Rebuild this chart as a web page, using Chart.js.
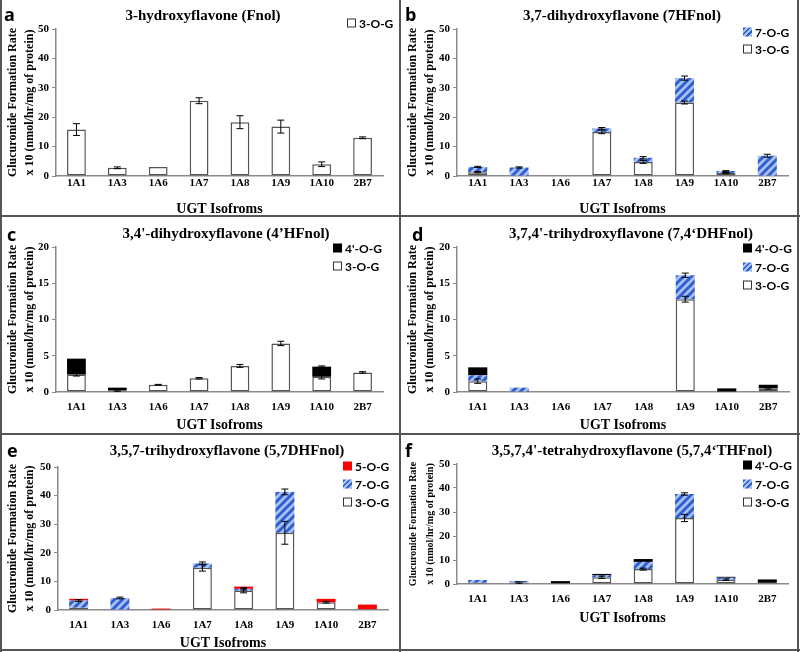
<!DOCTYPE html>
<html lang="en">
<head>
<meta charset="UTF-8">
<title>UGT isoform glucuronidation of flavonols</title>
<script src="https://cdn.jsdelivr.net/npm/chart.js"></script>
<style>
    body { margin: 0; background: #fff; }
    #fig { position: relative; width: 800px; height: 652px; overflow: hidden; }
    .panel { position: absolute; }
    .panel canvas { position: absolute; left: 0; top: 0; }
    .letter { position: absolute; font: bold 18px "Open Sans", sans-serif; transform: translateY(-50%); }
    .title { position: absolute; font: bold 15px "Liberation Serif", serif; white-space: nowrap; transform: translate(-50%, -50%); }
    .legend { position: absolute; font: bold 12px Lato, sans-serif; }
    .legend div { position: absolute; left: 0; white-space: nowrap; transform: translateY(-50%); display: flex; align-items: center; }
    .legend span.box { display: inline-block; width: 9px; height: 9px; margin-right: 3px; box-sizing: border-box; }
    .line { position: absolute; background: #555; }
</style>
</head>
<body>
<div id="fig"></div>

<script>
    // categories (shared by every panel)
    const isoforms = ['1A1', '1A3', '1A6', '1A7', '1A8', '1A9', '1A10', '2B7'];

    // a: 3-hydroxyflavone
    const fnol3 = [15.8, 2.8, 3.1, 25.6, 18.3, 16.8, 4.0, 13.0];
    const fnol3Err = [2.0, 0.3, 0, 1.0, 2.2, 2.2, 0.8, 0.3];

    // b: 3,7-dihydroxyflavone
    const hf7_3 = [1.3, 0, 0, 15.0, 4.8, 25.0, 1.0, 0];
    const hf7_3Err = [0.2, 0, 0, 0.6, 0.5, 0.5, 0.2, 0];
    const hf7_7 = [1.8, 2.9, 0, 1.2, 1.4, 8.3, 0.7, 6.9];
    const hf7_7Err = [0.2, 0.2, 0, 0.3, 0.4, 0.7, 0.1, 0.5];

    // c: 3,4'-dihydroxyflavone
    const hf4_3 = [2.4, 0.2, 1.0, 1.9, 3.6, 6.7, 2.1, 2.7];
    const hf4_3Err = [0.2, 0.1, 0.05, 0.1, 0.2, 0.3, 0.3, 0.1];
    const hf4_4 = [2.2, 0.4, 0, 0, 0, 0, 1.4, 0];
    const hf4_4Err = [0, 0, 0, 0, 0, 0, 0.1, 0];

    // d: 3,7,4'-trihydroxyflavone
    const dhf74_3 = [1.5, 0, 0, 0, 0, 12.8, 0, 0.5];
    const dhf74_3Err = [0.3, 0, 0, 0, 0, 0.4, 0, 0.1];
    const dhf74_7 = [0.8, 0.6, 0, 0, 0, 3.3, 0, 0];
    const dhf74_7Err = [0, 0, 0, 0, 0, 0.3, 0, 0];
    const dhf74_4 = [1.1, 0, 0, 0, 0, 0, 0.5, 0.5];

    // e: 3,5,7-trihydroxyflavone
    const dhf57_3 = [0.8, 0, 0, 14.8, 6.8, 27.0, 2.7, 0.3];
    const dhf57_3Err = [0, 0, 0, 1.2, 0.8, 4.0, 0.3, 0];
    const dhf57_7 = [2.5, 4.2, 0, 1.5, 0.6, 14.3, 0, 0];
    const dhf57_7Err = [0.3, 0.3, 0, 0.5, 0.4, 1.0, 0, 0];
    const dhf57_5 = [0.6, 0, 0.5, 0, 0.8, 0, 1.2, 1.6];

    // f: 3,5,7,4'-tetrahydroxyflavone
    const thf_3 = [0.5, 0.6, 0.3, 2.8, 6.2, 27.5, 1.8, 0.5];
    const thf_3Err = [0, 0.3, 0, 0.5, 0.4, 1.5, 0.3, 0];
    const thf_7 = [1.2, 0.7, 0, 0.8, 3.0, 10.0, 0.8, 0];
    const thf_7Err = [0, 0, 0, 0, 0, 0.5, 0, 0];
    const thf_4 = [0, 0, 0.9, 0.6, 1.2, 0, 0.4, 1.4];

    // striped blue fill used for 7-O-G
    function makeHatch() {
        const c = document.createElement('canvas');
        c.width = 8; c.height = 8;
        const x = c.getContext('2d');
        x.fillStyle = '#a8c0f2';
        x.fillRect(0, 0, 8, 8);
        x.strokeStyle = '#2f5fd0';
        x.lineWidth = 3;
        x.beginPath();
        x.moveTo(-2, 10); x.lineTo(10, -2);
        x.moveTo(-6, 6); x.lineTo(6, -6);
        x.moveTo(2, 14); x.lineTo(14, 2);
        x.stroke();
        return x.createPattern(c, 'repeat');
    }
    const hatch = makeHatch();
    const hatchCss = 'repeating-linear-gradient(135deg, #2f5fd0 0 2px, #a8c0f2 2px 4px)';

    const styles = {
        '3-O-G': { backgroundColor: '#ffffff', borderColor: '#555', borderWidth: 1.5, css: 'background:#fff;border:1px solid #333' },
        '7-O-G': { backgroundColor: hatch, borderColor: '#2f5fd0', borderWidth: 0, css: 'background:' + hatchCss },
        "4'-O-G": { backgroundColor: '#000000', borderColor: '#000', borderWidth: 0, css: 'background:#000' },
        '5-O-G': { backgroundColor: '#ff0000', borderColor: '#f00', borderWidth: 0, css: 'background:#f00' }
    };

    // error bars drawn at the top of each stacked segment
    const errorBars = {
        id: 'errorBars',
        afterDatasetsDraw(chart) {
            const ctx = chart.ctx;
            const y = chart.scales.y;
            chart.data.datasets.forEach((ds, i) => {
                if (!ds.errors) return;
                const meta = chart.getDatasetMeta(i);
                meta.data.forEach((bar, j) => {
                    const e = ds.errors[j];
                    if (!e || !ds.data[j]) return;
                    const h = Math.abs(y.getPixelForValue(0) - y.getPixelForValue(e));
                    ctx.save();
                    ctx.strokeStyle = '#000';
                    ctx.lineWidth = 1;
                    ctx.beginPath();
                    ctx.moveTo(bar.x, bar.y - h); ctx.lineTo(bar.x, bar.y + h);
                    ctx.moveTo(bar.x - 3.5, bar.y - h); ctx.lineTo(bar.x + 3.5, bar.y - h);
                    ctx.moveTo(bar.x - 3.5, bar.y + h); ctx.lineTo(bar.x + 3.5, bar.y + h);
                    ctx.stroke();
                    ctx.restore();
                });
            });
        }
    };

    const fig = document.getElementById('fig');

    // p.x/p.y/p.w/p.h: panel box; p.area: plot area inside the panel
    function panel(p) {
        const div = document.createElement('div');
        div.className = 'panel';
        div.style.cssText = `left:${p.x}px;top:${p.y}px;width:${p.w}px;height:${p.h}px`;
        const canvas = document.createElement('canvas');
        canvas.width = p.w; canvas.height = p.h;
        div.appendChild(canvas);

        const letter = document.createElement('div');
        letter.className = 'letter';
        letter.textContent = p.letter;
        letter.style.left = p.letterX + 'px';
        letter.style.top = p.letterY + 'px';
        div.appendChild(letter);

        const title = document.createElement('div');
        title.className = 'title';
        title.textContent = p.title;
        title.style.left = p.titleX + 'px';
        title.style.top = p.titleY + 'px';
        div.appendChild(title);

        const legend = document.createElement('div');
        legend.className = 'legend';
        legend.style.left = p.legX + 'px';
        legend.style.top = '0px';
        // legend lists the top segment first
        p.series.slice().reverse().forEach((s, k) => {
            const row = document.createElement('div');
            row.style.top = (p.legY + k * p.legStep) + 'px';
            row.innerHTML = `<span class="box" style="${styles[s.label].css}"></span>${s.label}`;
            legend.appendChild(row);
        });
        div.appendChild(legend);
        fig.appendChild(div);

        const a = p.area;
        const xTitleBottom = a.xTitle + 8;
        const ySize = p.yTitleSize || 12;
        new Chart(canvas, {
            type: 'bar',
            data: {
                labels: isoforms,
                datasets: p.series.map(s => ({
                    label: s.label,
                    data: s.data.map(v => v === 0 ? null : v),
                    errors: s.err,
                    backgroundColor: styles[s.label].backgroundColor,
                    borderColor: styles[s.label].borderColor,
                    borderWidth: styles[s.label].borderWidth,
                    borderSkipped: false,
                    categoryPercentage: 1,
                    barPercentage: 0.46
                }))
            },
            options: {
                responsive: false,
                animation: false,
                events: [],
                layout: { padding: { left: 0, top: a.top, right: p.w - a.right, bottom: p.h - xTitleBottom } },
                plugins: { legend: { display: false }, tooltip: { enabled: false } },
                scales: {
                    x: {
                        stacked: true,
                        grid: { display: false, drawTicks: false },
                        border: { color: '#8a8a8a', width: 1.5 },
                        ticks: { color: '#000', padding: a.labelPad, font: { family: 'Liberation Serif', weight: 'bold', size: 11 } },
                        title: {
                            display: true, text: 'UGT Isofroms', color: '#000',
                            font: { family: 'Liberation Serif', weight: 'bold', size: 14, lineHeight: 1 },
                            padding: { top: 0, bottom: 1 }
                        },
                        afterFit: sc => { sc.height = xTitleBottom - a.bottom; }
                    },
                    y: {
                        stacked: true,
                        min: 0, max: p.max,
                        grid: { display: true, drawOnChartArea: false, drawTicks: true, tickLength: 4, color: '#8a8a8a' },
                        border: { color: '#8a8a8a', width: 1.5 },
                        ticks: { stepSize: p.step, color: '#000', padding: 3, font: { family: 'Liberation Serif', weight: 'bold', size: 11 } },
                        title: {
                            display: true, color: '#000',
                            text: ['Glucuronide Formation Rate', 'x 10 (nmol/hr/mg of protein)'],
                            font: { family: 'Liberation Serif', weight: 'bold', size: ySize, lineHeight: 17 / ySize },
                            padding: { top: 13 - 8.5, bottom: 0 }
                        },
                        afterFit: sc => { sc.width = a.left; }
                    }
                }
            },
            plugins: [errorBars]
        });
    }

    panel({
        x: 0, y: 0, w: 400, h: 216, letter: 'a', letterX: 4, letterY: 14,
        title: '3-hydroxyflavone (Fnol)', titleX: 203, titleY: 15,
        legX: 347, legY: 23, legStep: 17, max: 50, step: 10,
        area: { left: 56, right: 383, top: 29, bottom: 176, labelPad: 1, xTitle: 209 },
        series: [{ label: '3-O-G', data: fnol3, err: fnol3Err }]
    });

    panel({
        x: 400, y: 0, w: 400, h: 216, letter: 'b', letterX: 5, letterY: 14,
        title: '3,7-dihydroxyflavone (7HFnol)', titleX: 222, titleY: 15,
        legX: 343, legY: 32, legStep: 17, max: 50, step: 10,
        area: { left: 57, right: 388, top: 29, bottom: 176, labelPad: 1, xTitle: 209 },
        series: [
            { label: '3-O-G', data: hf7_3, err: hf7_3Err },
            { label: '7-O-G', data: hf7_7, err: hf7_7Err }
        ]
    });

    panel({
        x: 0, y: 216, w: 400, h: 218, letter: 'c', letterX: 7, letterY: 18,
        title: "3,4'-dihydroxyflavone (4\u2019HFnol)", titleX: 226, titleY: 17,
        legX: 333, legY: 32, legStep: 18, max: 20, step: 5,
        area: { left: 56, right: 383, top: 31, bottom: 176, labelPad: 9, xTitle: 209 },
        series: [
            { label: '3-O-G', data: hf4_3, err: hf4_3Err },
            { label: "4'-O-G", data: hf4_4, err: hf4_4Err }
        ]
    });

    panel({
        x: 400, y: 216, w: 400, h: 218, letter: 'd', letterX: 12, letterY: 18,
        title: "3,7,4'-trihydroxyflavone (7,4\u2018DHFnol)", titleX: 231, titleY: 17,
        legX: 343, legY: 32, legStep: 18.5, max: 20, step: 5,
        area: { left: 57, right: 389, top: 31, bottom: 176, labelPad: 9, xTitle: 209 },
        series: [
            { label: '3-O-G', data: dhf74_3, err: dhf74_3Err },
            { label: '7-O-G', data: dhf74_7, err: dhf74_7Err },
            { label: "4'-O-G", data: dhf74_4 }
        ]
    });

    panel({
        x: 0, y: 434, w: 400, h: 218, letter: 'e', letterX: 7, letterY: 16,
        title: '3,5,7-trihydroxyflavone (5,7DHFnol)', titleX: 227, titleY: 16,
        legX: 343, legY: 32, legStep: 18, max: 50, step: 10,
        area: { left: 58, right: 388, top: 33, bottom: 176, labelPad: 9, xTitle: 209 },
        series: [
            { label: '3-O-G', data: dhf57_3, err: dhf57_3Err },
            { label: '7-O-G', data: dhf57_7, err: dhf57_7Err },
            { label: '5-O-G', data: dhf57_5 }
        ]
    });

    panel({
        x: 400, y: 434, w: 400, h: 218, letter: 'f', letterX: 5, letterY: 16,
        title: "3,5,7,4'-tetrahydroxyflavone (5,7,4\u2018THFnol)", titleX: 232, titleY: 16,
        legX: 343, legY: 31, legStep: 18.5, max: 50, step: 10, yTitleSize: 10,
        area: { left: 57, right: 388, top: 30, bottom: 150, labelPad: 9, xTitle: 184 },
        series: [
            { label: '3-O-G', data: thf_3, err: thf_3Err },
            { label: '7-O-G', data: thf_7, err: thf_7Err },
            { label: "4'-O-G", data: thf_4 }
        ]
    });

    // panel frame lines
    [
        [0, 0, 2, 652], [797, 0, 2, 652], [0, 649, 800, 2],
        [399, 0, 2, 652], [0, 215, 800, 2], [0, 433, 800, 2]
    ].forEach(([l, t, w, h]) => {
        const d = document.createElement('div');
        d.className = 'line';
        d.style.cssText = `left:${l}px;top:${t}px;width:${w}px;height:${h}px`;
        fig.appendChild(d);
    });
</script>
</body>
</html>
